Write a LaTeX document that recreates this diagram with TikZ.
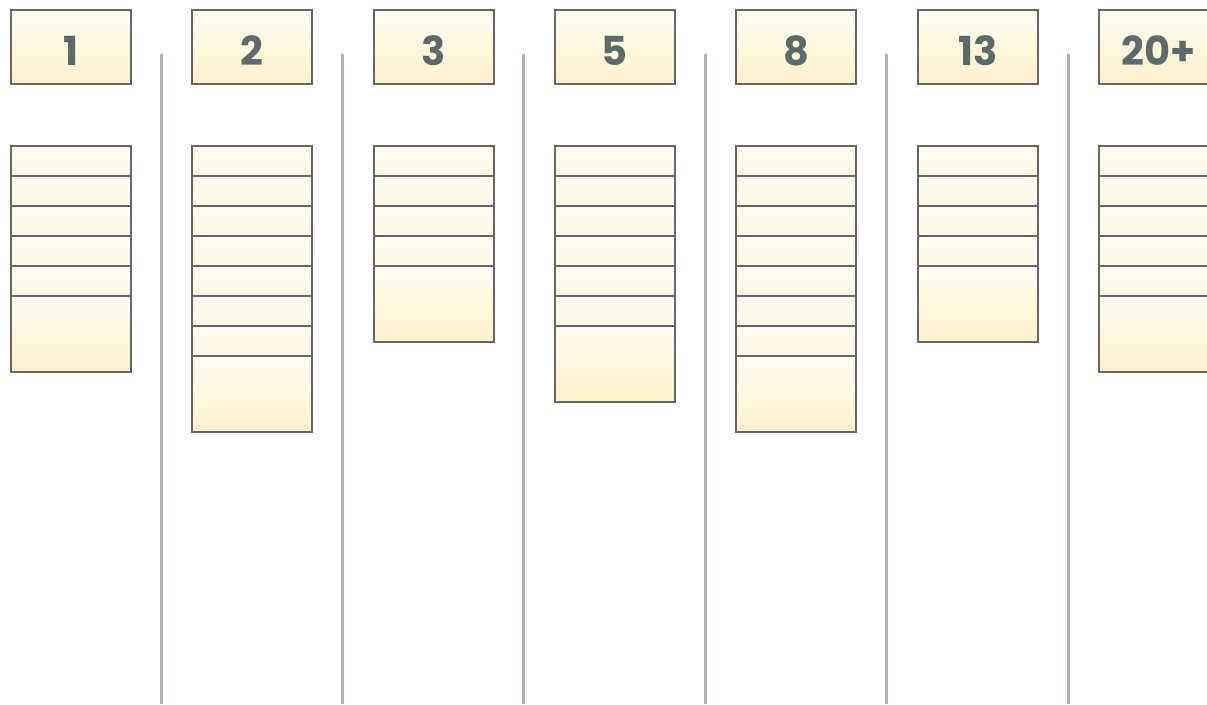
\documentclass[tikz,border=0pt]{standalone}
\usepackage{fontspec}
\setmainfont{Poppins}
\definecolor{cardtop}{HTML}{FFFDF4}
\definecolor{cardbot}{HTML}{FFF1CB}
\definecolor{cardline}{HTML}{666666}
\definecolor{sepline}{HTML}{AAB4B5}
\definecolor{numtext}{HTML}{5C6A6A}
\tikzset{
  x=1pt, y=-1pt,
  header/.style={draw=cardline, line width=2pt, top color=cardtop, bottom color=cardbot,
    minimum width=120pt, minimum height=74pt, inner sep=0pt, anchor=north west,
    text height=37pt, text depth=0pt,
    font=\fontsize{40}{40}\selectfont\bfseries, text=numtext},
  card/.style={draw=cardline, line width=2pt, top color=cardtop, bottom color=cardbot,
    minimum width=120pt, minimum height=76pt, inner sep=0pt, anchor=north west},
  sep/.style={draw=sepline, line width=3pt}
}
\begin{document}
\begin{tikzpicture}
\useasboundingbox (0,0) rectangle (1207,704);
\begin{scope}
\clip (0,0) rectangle (1207,704);
% separators
\foreach \i/\x in {1/161,2/342.5,3/523.5,4/705,5/886.5,6/1068}{
  \coordinate (st\i) at (\x,54);
  \coordinate (sb\i) at (\x,704);
  \draw[sep] (st\i) -- (sb\i);
}
% headers and card stacks
\foreach \i/\lab/\n [count=\k from 0] in {1/1/6,2/2/8,3/3/5,4/5/7,5/8/8,6/13/5,7/20+/6}{
  \pgfmathsetmacro{\xl}{10+181.33*\k}
  \node[header] (h\i) at (\xl,8.5) {\lab};
  \foreach \j in {1,...,\n}{
    \node[card] (c\i-\j) at (\xl,{144.5+30*(\j-1)}) {};
  }
}
\end{scope}
\end{tikzpicture}
\end{document}
